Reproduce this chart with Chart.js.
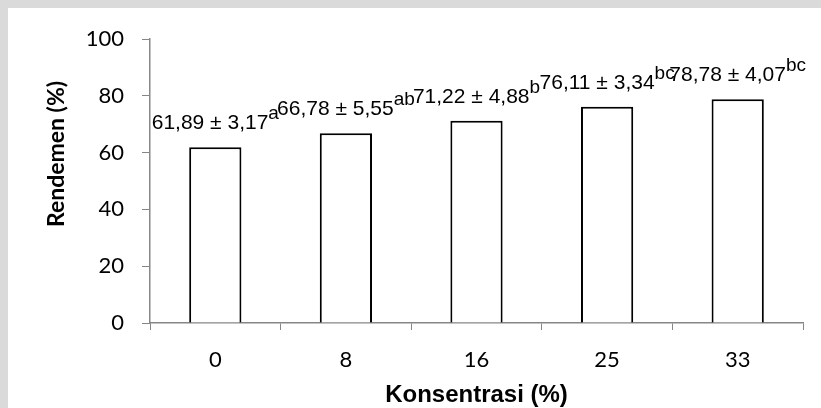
<!DOCTYPE html>
<html>
<head>
<meta charset="utf-8">
<script src="https://cdn.jsdelivr.net/npm/chart.js@4"></script>
<style>
  body { margin: 0; background: #ffffff; }
  #grafik { display: block; }
</style>
</head>
<body>
<canvas id="grafik" width="821" height="408"></canvas>
<script>
// data dari grafik
const konsentrasi = ['0', '8', '16', '25', '33'];
const rendemen = [61.89, 66.78, 71.22, 76.11, 78.78];
const simpangan = [3.17, 5.55, 4.88, 3.34, 4.07];
const notasi = ['a', 'ab', 'b', 'bc', 'bc'];
const tickY = [0, 20, 40, 60, 80, 100];

const abuSumbu = '#868686';

const formatAngka = (v) => v.toFixed(2).replace('.', ',');

// latar putih + pinggiran abu-abu
const latar = {
    id: 'latar',
    beforeDraw(chart) {
        const ctx = chart.ctx;
        ctx.save();
        ctx.fillStyle = '#ffffff';
        ctx.fillRect(0, 0, chart.width, chart.height);
        ctx.fillStyle = '#dadada';
        ctx.fillRect(0, 0, chart.width, 8);
        ctx.fillRect(0, 0, 8, chart.height);
        ctx.restore();
    }
};

// label nilai ± SD dengan huruf notasi di atas batang
const labelBatang = {
    id: 'labelBatang',
    afterDatasetsDraw(chart) {
        const ctx = chart.ctx;
        const meta = chart.getDatasetMeta(0);
        const fontUtama = '21px "Liberation Sans", Arial, sans-serif';
        const fontNotasi = '19px "Liberation Sans", Arial, sans-serif';
        ctx.save();
        ctx.fillStyle = '#000000';
        ctx.textBaseline = 'alphabetic';
        ctx.textAlign = 'left';
        meta.data.forEach((bar, i) => {
            const teks = formatAngka(rendemen[i]) + ' \u00b1 ' + formatAngka(simpangan[i]);
            ctx.font = fontUtama;
            const w1 = ctx.measureText(teks).width;
            ctx.font = fontNotasi;
            const w2 = ctx.measureText(notasi[i]).width;
            const x0 = bar.x - (w1 + w2) / 2;
            const yBase = bar.y - 18;

            ctx.font = fontUtama;
            ctx.fillText(teks, x0, yBase);
            ctx.font = fontNotasi;
            ctx.fillText(notasi[i], x0 + w1, yBase - 10);
        });
        ctx.restore();
    }
};

// judul sumbu Y (tidak tepat di tengah sumbu)
const judulY = {
    id: 'judulY',
    afterDraw(chart) {
        const ctx = chart.ctx;
        ctx.save();
        ctx.translate(57, 154);
        ctx.rotate(-Math.PI / 2);
        ctx.font = 'bold 23px Lato, sans-serif';
        ctx.fillStyle = '#000000';
        ctx.textAlign = 'center';
        ctx.textBaseline = 'middle';
        ctx.fillText('Rendemen (%)', 0, 0);
        ctx.restore();
    }
};

new Chart(document.getElementById('grafik'), {
    type: 'bar',
    data: {
        labels: konsentrasi,
        datasets: [{
            label: 'Rendemen',
            data: rendemen,
            backgroundColor: '#ffffff',
            borderColor: '#000000',
            borderWidth: 2,
            categoryPercentage: 1,
            barPercentage: 0.4
        }]
    },
    options: {
        responsive: false,
        animation: false,
        layout: { padding: { top: 39, right: 18, left: 0, bottom: 0 } },
        plugins: {
            legend: { display: false },
            tooltip: { enabled: false }
        },
        scales: {
            x: {
                grid: { offset: true, drawOnChartArea: false, tickLength: 7, color: abuSumbu },
                border: { color: abuSumbu, width: 1.5 },
                ticks: {
                    color: '#000000',
                    font: { family: 'Lato', size: 22 },
                    padding: 17
                },
                title: {
                    display: true,
                    text: 'Konsentrasi (%)',
                    color: '#000000',
                    font: { family: '"Liberation Sans"', size: 24, weight: 'bold' },
                    padding: { top: 0, bottom: -2 }
                },
                afterFit(scale) { scale.height = 85; }
            },
            y: {
                min: 0,
                max: 100,
                afterBuildTicks(scale) { scale.ticks = tickY.map(v => ({ value: v })); },
                grid: { drawOnChartArea: false, tickLength: 8, color: abuSumbu },
                border: { color: abuSumbu, width: 1.5 },
                ticks: {
                    color: '#000000',
                    font: { family: 'Lato', size: 22 },
                    padding: 18
                },
                afterFit(scale) { scale.width = 150; }
            }
        }
    },
    plugins: [latar, labelBatang, judulY]
});
</script>
</body>
</html>
